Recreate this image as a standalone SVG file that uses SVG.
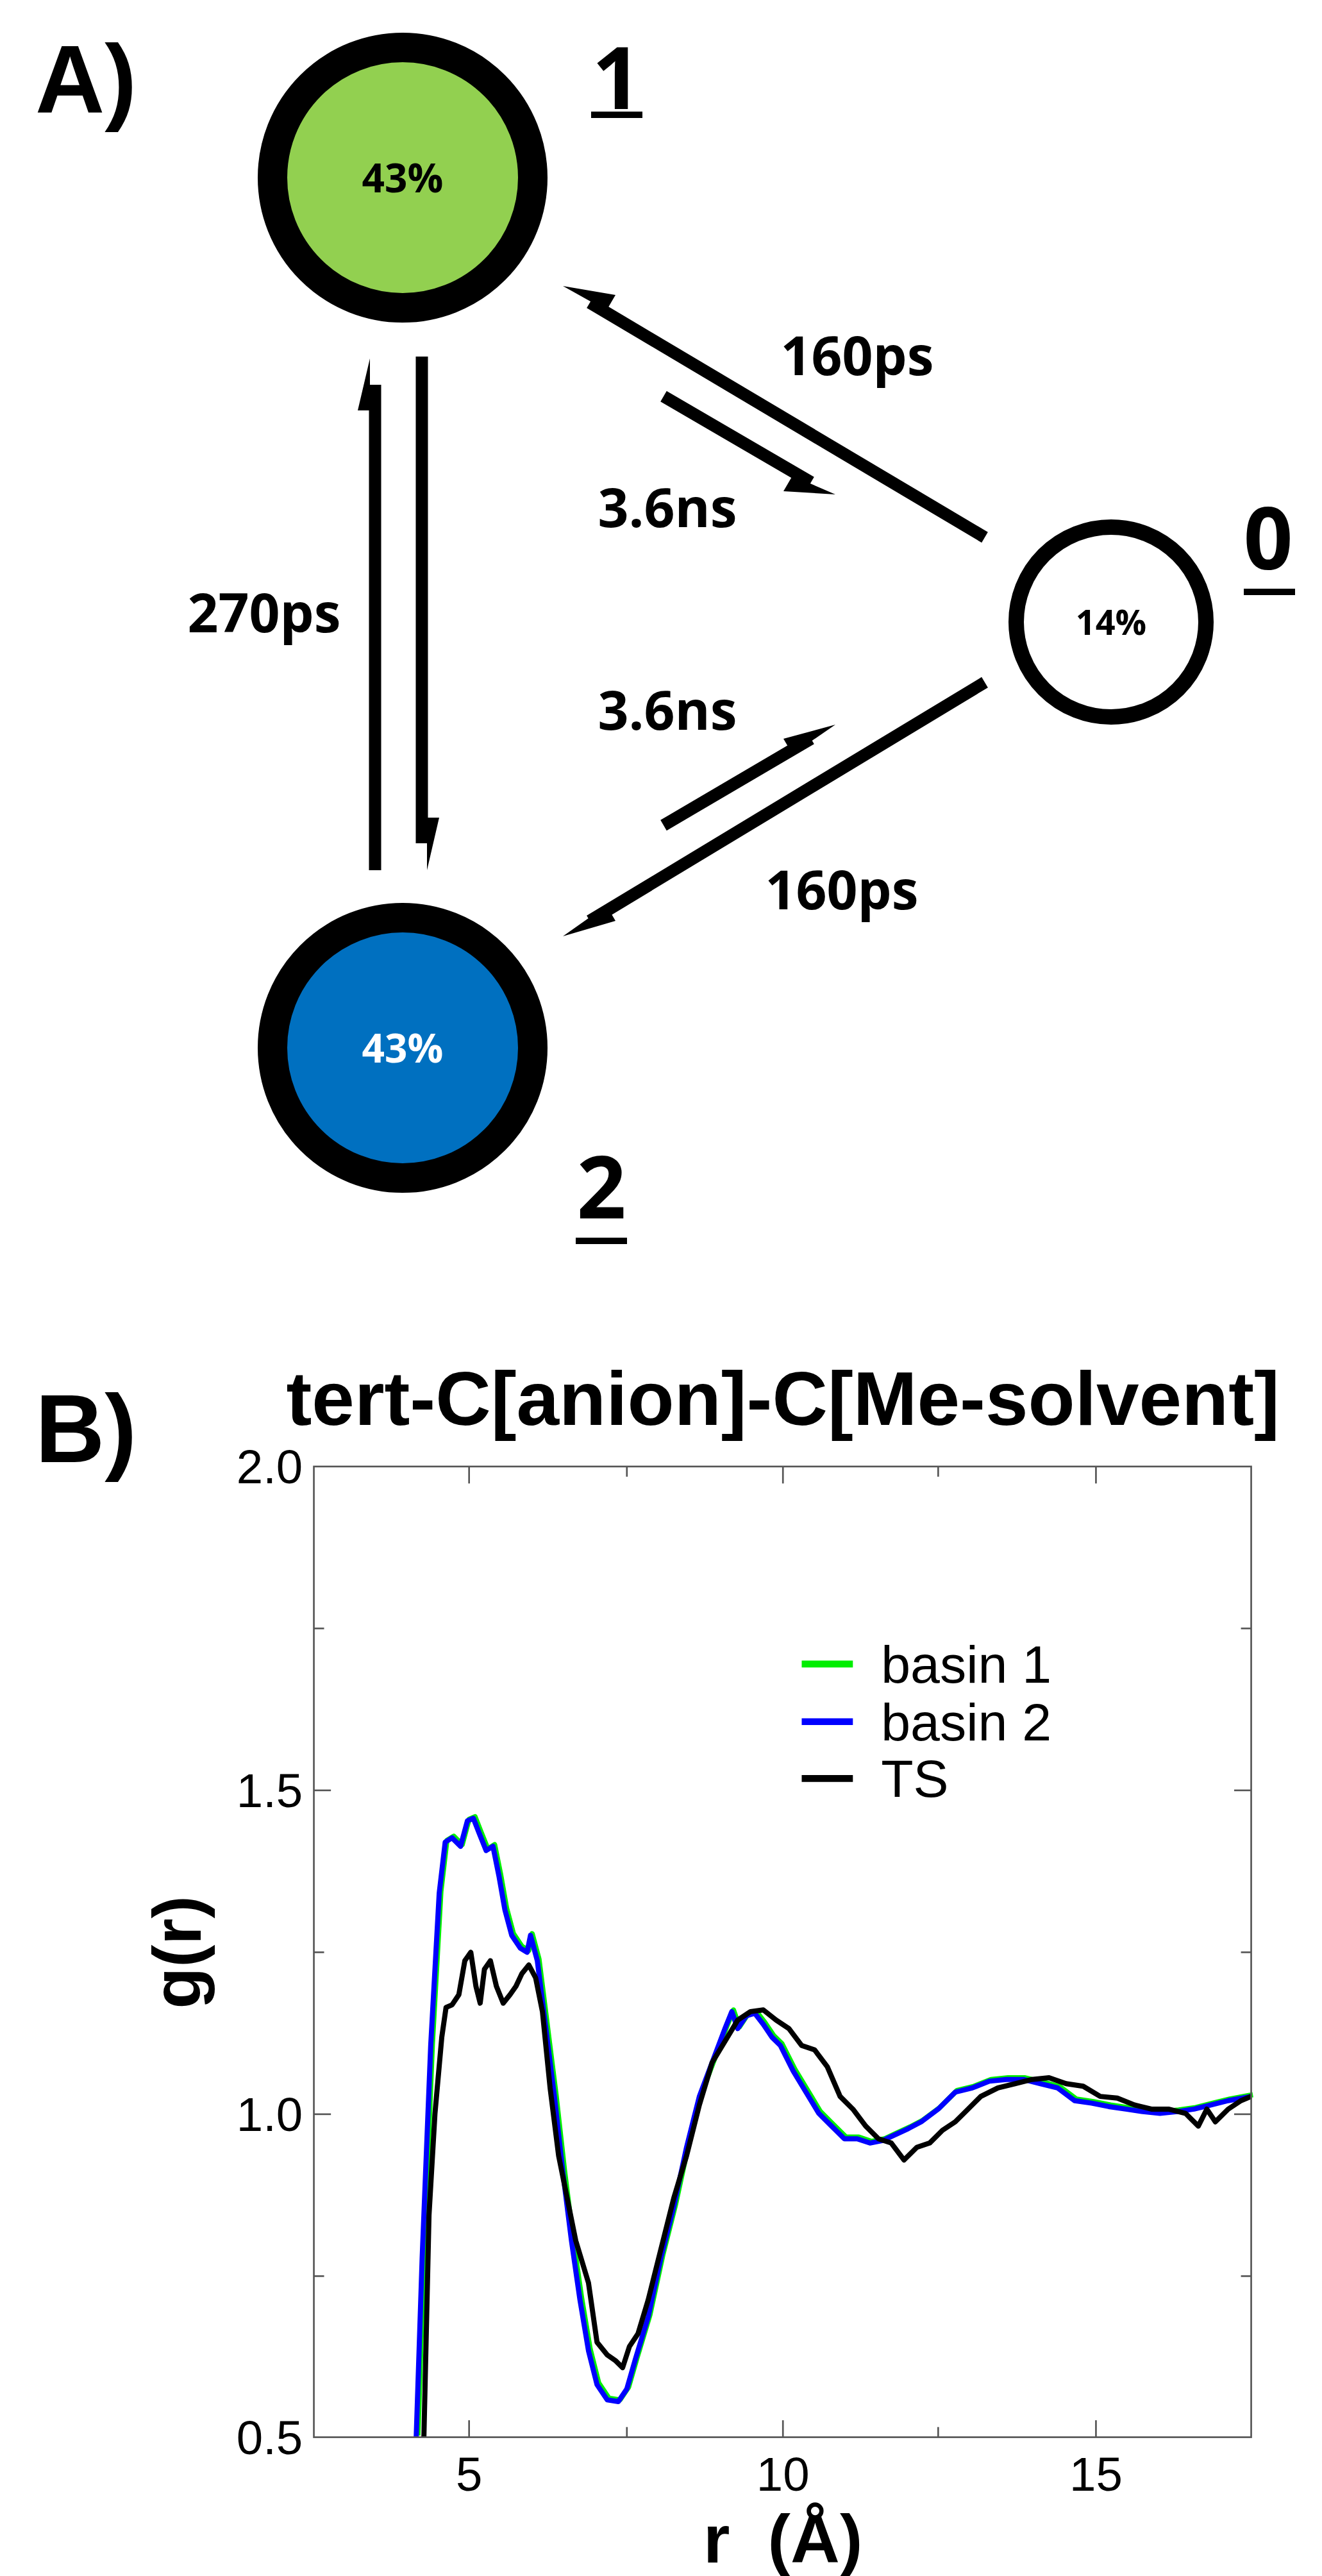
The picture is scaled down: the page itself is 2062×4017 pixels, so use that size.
<svg xmlns="http://www.w3.org/2000/svg" width="2062" height="4017" viewBox="0 0 2062 4017">
<style>
text{font-family:"Liberation Sans",Arial,sans-serif}
.cal{font-family:"Open Sans","Liberation Sans",sans-serif;font-weight:bold}
.lbl{font-size:84px;text-anchor:middle}
.num{font-size:135px;text-anchor:middle}
.ar{stroke:#000;stroke-width:19;fill:none}
.tk{stroke:#555;stroke-width:2}
.tl{font-size:56px;text-anchor:end}
</style>
<rect width="2062" height="4017" fill="#fff"/>
<text x="55" y="175" font-size="150" font-weight="bold">A)</text>
<g id="node1">
<circle cx="628" cy="277" r="203" fill="#92d050" stroke="#000" stroke-width="46"/>
<text class="cal" x="628" y="300" font-size="62" text-anchor="middle">43%</text>
<text class="cal num" x="962" y="170">1</text>
<rect x="922" y="174" width="80" height="10"/>
</g>
<g id="node2">
<circle cx="628" cy="1634" r="203" fill="#0070c0" stroke="#000" stroke-width="46"/>
<text class="cal" x="628" y="1657" font-size="62" text-anchor="middle" fill="#fff">43%</text>
<text class="cal num" x="938" y="1900">2</text>
<rect x="898" y="1930" width="80" height="10"/>
</g>
<g id="node0">
<circle cx="1733" cy="970" r="148" fill="#fff" stroke="#000" stroke-width="24"/>
<text class="cal" x="1733" y="990" font-size="54" text-anchor="middle" font-weight="normal">14%</text>
<text class="cal num" x="1978" y="888">0</text>
<rect x="1940" y="918" width="80" height="10"/>
</g>
<g id="connectors">
<line class="ar" x1="1536" y1="838" x2="920" y2="472"/>
<polygon points="878,446 960,460 946,484"/>
<line class="ar" x1="1035" y1="618" x2="1265" y2="752"/>
<polygon points="1303,771 1222,766 1236,742"/>
<line class="ar" x1="1536" y1="1064" x2="920" y2="1436"/>
<polygon points="878,1460 946,1412 960,1436"/>
<line class="ar" x1="1035" y1="1287" x2="1265" y2="1152"/>
<polygon points="1303,1130 1236,1176 1222,1152"/>
<line class="ar" x1="585" y1="1357" x2="585" y2="600"/>
<polygon points="577,559 558,640 577,640"/>
<line class="ar" x1="658" y1="556" x2="658" y2="1315"/>
<polygon points="666,1357 685,1275 666,1275"/>
<text class="cal lbl" x="1337" y="585">160ps</text>
<text class="cal lbl" x="1041" y="822">3.6ns</text>
<text class="cal lbl" x="412" y="986">270ps</text>
<text class="cal lbl" x="1041" y="1138">3.6ns</text>
<text class="cal lbl" x="1313" y="1418">160ps</text>
</g>
<text x="55" y="2280" font-size="150" font-weight="bold">B)</text>
<g id="plot" transform="translate(0,2000) scale(1.3303,1.322)">
<text x="918" y="168" font-size="90" font-weight="bold" text-anchor="middle">tert-C[anion]-C[Me-solvent]</text>
<g class="tk">
<line x1="550" y1="217" x2="550" y2="237"/><line x1="918" y1="217" x2="918" y2="237"/><line x1="1285" y1="217" x2="1285" y2="237"/>
<line x1="735" y1="217" x2="735" y2="229"/><line x1="1100" y1="217" x2="1100" y2="229"/>
<line x1="550" y1="1362" x2="550" y2="1342"/><line x1="918" y1="1362" x2="918" y2="1342"/><line x1="1285" y1="1362" x2="1285" y2="1342"/>
<line x1="735" y1="1362" x2="735" y2="1350"/><line x1="1100" y1="1362" x2="1100" y2="1350"/>
<line x1="368" y1="599" x2="388" y2="599"/><line x1="368" y1="981" x2="388" y2="981"/>
<line x1="368" y1="408" x2="380" y2="408"/><line x1="368" y1="790" x2="380" y2="790"/><line x1="368" y1="1172" x2="380" y2="1172"/>
<line x1="1467" y1="599" x2="1447" y2="599"/><line x1="1467" y1="981" x2="1447" y2="981"/>
<line x1="1467" y1="408" x2="1455" y2="408"/><line x1="1467" y1="790" x2="1455" y2="790"/><line x1="1467" y1="1172" x2="1455" y2="1172"/>
</g>
<g font-size="56">
<text class="tl" x="355" y="237">2.0</text>
<text class="tl" x="355" y="619">1.5</text>
<text class="tl" x="355" y="1001">1.0</text>
<text class="tl" x="355" y="1382">0.5</text>
<text x="550" y="1425" text-anchor="middle">5</text>
<text x="918" y="1425" text-anchor="middle">10</text>
<text x="1285" y="1425" text-anchor="middle">15</text>
</g>
<text x="0" y="0" font-size="80" font-weight="bold" text-anchor="middle" transform="translate(235,790) rotate(-90)">g(r)</text>
<text x="918" y="1510" font-size="80" font-weight="bold" text-anchor="middle" xml:space="preserve">r  (Å)</text>
<g stroke-width="6" fill="none" stroke-linejoin="round">
<polyline stroke="#00ee00" transform="translate(2,-2)" points="488,1362 495,1150 505,900 515,720 522,660 530,655 540,665 548,635 555,632 562,650 570,670 578,665 585,700 592,740 600,770 610,785 618,790 622,770 630,800 640,880 650,960 660,1050 670,1130 680,1200 690,1260 700,1300 712,1318 725,1320 735,1305 745,1270 760,1220 775,1150 790,1090 805,1020 820,960 835,920 850,880 858,860 865,880 875,865 885,862 895,875 905,890 915,900 930,930 945,955 960,980 975,995 990,1010 1005,1010 1020,1015 1035,1012 1050,1005 1065,998 1080,990 1100,975 1120,955 1140,950 1160,942 1180,940 1200,940 1220,945 1240,950 1260,965 1280,968 1300,972 1320,975 1340,978 1360,980 1380,978 1400,975 1420,970 1440,965 1467,960"/>
<polyline stroke="#0000ff" points="488,1362 495,1150 505,900 515,720 522,660 530,655 540,665 548,635 555,632 562,650 570,670 578,665 585,700 592,740 600,770 610,785 618,790 622,770 630,800 640,880 650,960 660,1050 670,1130 680,1200 690,1260 700,1300 712,1318 725,1320 735,1305 745,1270 760,1220 775,1150 790,1090 805,1020 820,960 835,920 850,880 858,860 865,880 875,865 885,862 895,875 905,890 915,900 930,930 945,955 960,980 975,995 990,1010 1005,1010 1020,1015 1035,1012 1050,1005 1065,998 1080,990 1100,975 1120,955 1140,950 1160,942 1180,940 1200,940 1220,945 1240,950 1260,965 1280,968 1300,972 1320,975 1340,978 1360,980 1380,978 1400,975 1420,970 1440,965 1467,960"/>
<polyline stroke="#000" points="497,1362 503,1100 510,980 518,890 523,855 530,852 538,840 545,800 552,790 558,830 563,850 568,810 575,800 582,830 590,850 598,840 605,830 612,815 620,805 628,820 636,860 645,950 655,1030 665,1080 675,1130 690,1180 700,1250 712,1265 722,1272 730,1280 738,1255 748,1240 760,1200 775,1140 790,1080 805,1030 820,970 835,920 850,895 865,870 880,860 895,858 910,870 925,880 940,900 955,905 970,925 985,960 1000,975 1015,995 1030,1010 1045,1015 1060,1035 1075,1020 1090,1015 1105,1000 1120,990 1135,975 1150,960 1170,950 1190,945 1210,940 1230,938 1250,945 1270,948 1290,960 1310,962 1330,970 1350,975 1370,975 1390,980 1405,995 1415,975 1425,990 1440,975 1455,965 1467,960"/>
</g>
<rect x="368" y="217" width="1099" height="1145" fill="none" stroke="#555" stroke-width="2"/>
<g stroke-width="8">
<line x1="940" y1="450" x2="1000" y2="450" stroke="#00ee00"/>
<line x1="940" y1="518" x2="1000" y2="518" stroke="#0000ff"/>
<line x1="940" y1="585" x2="1000" y2="585" stroke="#000"/>
</g>
<g font-size="62">
<text x="1033" y="472">basin 1</text>
<text x="1033" y="540">basin 2</text>
<text x="1033" y="607">TS</text>
</g>
</g>
</svg>
